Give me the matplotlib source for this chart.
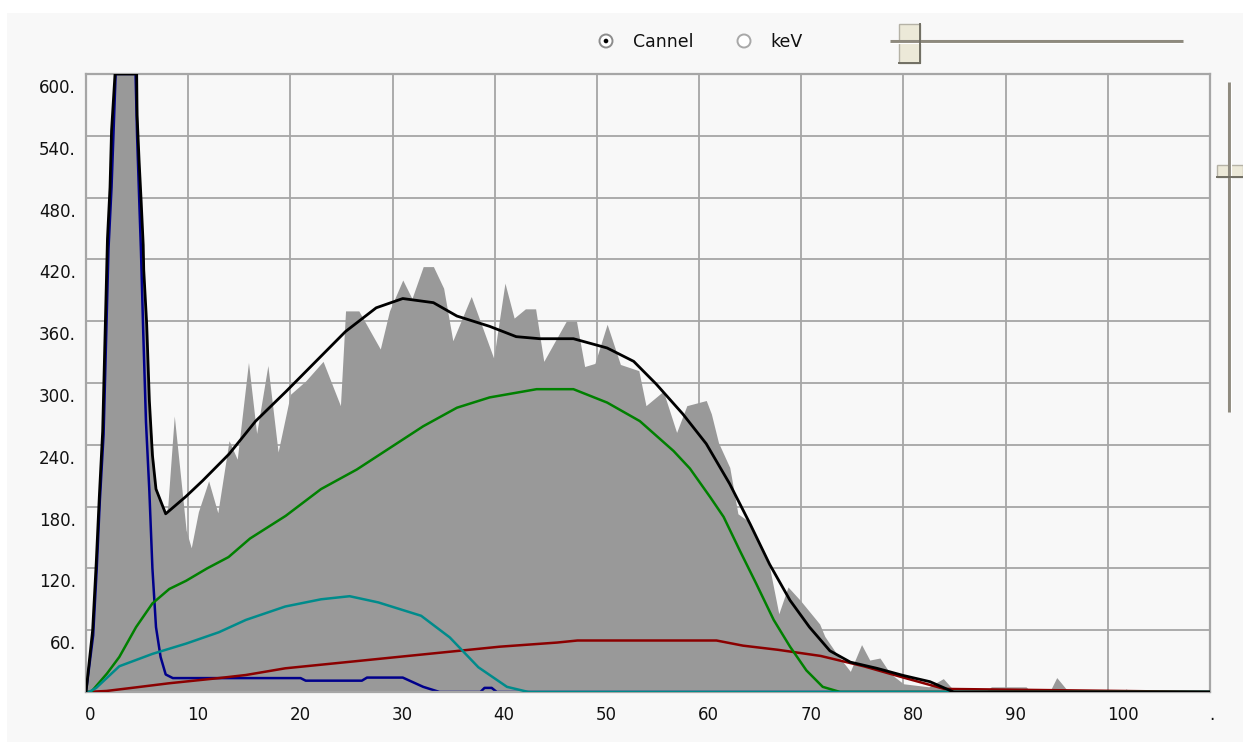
import matplotlib
matplotlib.use('Agg')
import matplotlib.pyplot as plt
from matplotlib.patches import Rectangle, Circle
from matplotlib.transforms import offset_copy, blended_transform_factory

# spectrum (gray area), clipped at the 600 top
hist_x = [0, 0.65, 1.0, 1.3, 1.63, 2.1, 2.5, 2.84, 4.96, 5.2, 5.6, 5.9, 6.2, 6.5, 6.8, 7.8, 8.0, 8.64, 9.3, 9.8,
          10.3, 11.0, 12.0, 12.9, 14.0, 14.8, 15.9, 16.7, 17.8, 18.8, 20.0, 21.5, 23.2, 24.9, 25.4, 26.7, 28.8,
          29.7, 31.0, 31.9, 33.0, 34.0, 35.0, 35.9, 37.7, 39.9, 41.0, 41.9, 43.0, 44.0, 44.8, 47.0, 48.0, 48.8,
          49.8, 51.0, 52.3, 54.1, 54.8, 56.5, 57.8, 58.8, 60.7, 61.2, 61.9, 63.0, 63.8, 64.8, 66.9, 67.8, 68.7,
          69.9, 71.8, 72.3, 73.4, 74.8, 75.9, 76.7, 77.7, 78.7, 80.0, 82.5, 83.9, 84.9, 86.0, 88.0, 88.6, 92.0,
          92.5, 94.3, 95.0, 96.0, 101.4, 101.8, 102.2, 110]
hist_y = [0, 58, 122, 186, 250, 430, 540, 600, 600, 510, 430, 350, 280, 240, 200, 172, 180, 268, 205, 157,
          140, 175, 205, 174, 244, 226, 320, 251, 317, 233, 289, 302, 321, 278, 370, 370, 333,
          370, 400, 382, 413, 413, 392, 341, 384, 324, 397, 363, 372, 372, 321, 360, 360, 316,
          319, 357, 318, 312, 278, 292, 252, 278, 283, 270, 242, 218, 173, 166, 121, 76, 102,
          89, 66, 54, 38, 20, 46, 31, 33, 18, 8, 5, 13, 2, 0, 0, 5, 5,
          0, 0, 14, 2, 0, 3, 0, 0]

# fit components
blue_x = [0, 0.7, 1.05, 1.35, 1.72, 2.2, 2.5, 2.7, 2.9, 4.85, 5.0, 5.2, 5.38, 5.6, 5.87, 6.2, 6.5, 6.85, 7.3,
          7.8, 8.5, 21.0, 21.5, 27.0, 27.5, 31.0, 33.0, 34.6, 38.6, 39.0, 39.7, 40.2, 110]
blue_y = [0, 55, 120, 185, 250, 430, 490, 545, 600, 600, 540, 480, 428, 350, 262, 195, 120, 63, 34,
          17, 13.5, 13.5, 11, 11, 14, 14, 5, 0, 0, 4, 4, 0, 0]

red_x = [0, 2.0, 4.9, 8.15, 13.0, 15.65, 19.5, 26.5, 33.5, 40.5, 46.1, 48.1, 61.7, 64.3, 67.7, 71.9, 76.1, 80.0,
         84.0, 110]
red_y = [0, 1, 4.5, 8.5, 13.5, 16.5, 23, 30, 37, 44, 48, 50, 50, 45, 41, 35, 25, 14,
         3, 0]

green_x = [0, 0.5, 2.06, 3.26, 4.9, 6.5, 8.15, 9.8, 11.85, 13.95, 16.05, 19.54, 23.0, 26.5, 29.75, 33.0, 36.3,
           39.5, 44.1, 47.7, 51.0, 54.2, 57.5, 59.1, 61.1, 62.4, 64.0, 65.6, 67.3, 68.9, 70.5, 72.1, 73.8, 110]
green_y = [0, 0, 18, 34, 63, 86, 100, 108, 120, 131, 149, 171, 197, 216, 237, 258, 276,
           286, 294, 294, 281, 263, 234, 217, 189, 170, 137, 105, 70, 44, 21, 5, 0, 0]

teal_x = [0, 0.3, 1.0, 3.26, 6.5, 9.8, 13.0, 15.65, 19.5, 23.0, 25.8, 28.6, 32.8, 35.6, 38.4, 41.2, 43.3, 110]
teal_y = [0, 0, 4, 25, 37, 47, 58, 70, 83, 90, 93, 87, 74, 53, 24, 5, 0, 0]

# total fit
black_x = [0, 0.65, 1.0, 1.3, 1.63, 2.1, 2.35, 2.5, 2.84, 4.96, 5.0, 5.2, 5.4, 5.6, 5.65, 5.94, 6.2, 6.5, 6.85,
           7.8, 9.8, 11.4, 14.0, 16.6, 19.6, 22.8, 25.4, 28.4, 31.0, 34.0, 36.3, 39.5, 42.1, 44.4, 47.7,
           51.0, 53.6, 55.8, 58.4, 60.7, 63.0, 65.0, 66.9, 68.9, 70.8, 72.8, 74.8, 77.4, 80.0, 82.6, 84.9, 110]
black_y = [0, 60, 125, 189, 253, 440, 490, 545, 600, 600, 560, 515, 476, 434, 410, 357, 283, 230, 197,
           173, 190, 205, 231, 263, 292, 324, 350, 373, 382, 378, 365, 355, 345, 343, 343,
           334, 321, 299, 270, 241, 202, 163, 124, 89, 63, 40, 29, 23, 16, 10, 0, 0]

x_ticks = list(range(0, 111, 10))
x_labels = [str(v) for v in range(0, 101, 10)] + ['.']
y_ticks = list(range(60, 601, 60))
y_labels = [str(v) + '.' for v in y_ticks]

W, H = 1243, 742
BG = '#f8f8f8'
GRID = '#a6a6a6'

fig = plt.figure(figsize=(W / 100, H / 100), dpi=100, facecolor='white')
# light dialog panel
fig.patches.append(Rectangle((7 / W, 0), 1 - 7 / W, 1 - 13 / H, transform=fig.transFigure,
                             facecolor=BG, edgecolor='none', zorder=-5))

ax = fig.add_axes([86 / W, 50 / H, 1124 / W, 618 / H])
ax.set_facecolor(BG)
ax.set_xlim(0, 110)
ax.set_ylim(0, 600)
ax.set_xticks(x_ticks)
ax.set_yticks([0] + y_ticks)
ax.tick_params(length=0, labelbottom=False, labelleft=False)
ax.grid(True, color=GRID, lw=1.3)
ax.set_axisbelow(True)
for sp in ax.spines.values():
  sp.set_color(GRID)
  sp.set_linewidth(1.6)

ax.fill_between(hist_x, hist_y, color='#999999', lw=0, zorder=1)
ax.plot(blue_x, blue_y, color='#00008b', lw=1.8, zorder=2)
ax.plot(red_x, red_y, color='#8b0000', lw=1.8, zorder=3)
ax.plot(green_x, green_y, color='#008000', lw=1.8, zorder=4)
ax.plot(teal_x, teal_y, color='#008b8b', lw=1.8, zorder=5)
ax.plot(black_x, black_y, color='black', lw=2.0, zorder=6)

# tick labels: x left-aligned on the grid line, y just below the grid line
xt = offset_copy(ax.get_xaxis_transform(), fig=fig, x=-1, y=-14, units='dots')
for v, lab in zip(x_ticks, x_labels):
  ax.text(v, 0, lab, transform=xt, ha='left', va='top', fontsize=12, color='#111111', clip_on=False)
yt = offset_copy(blended_transform_factory(ax.transAxes, ax.transData), fig=fig, x=-10, y=-5, units='dots')
for v, lab in zip(y_ticks, y_labels):
  ax.text(0, v, lab, transform=yt, ha='right', va='top', fontsize=12, color='#111111', clip_on=False)

# dialog controls (radio buttons and sliders) in pixel space
ui = fig.add_axes([0, 0, 1, 1])
ui.set_xlim(0, W)
ui.set_ylim(H, 0)
ui.axis('off')

ui.add_patch(Circle((606, 41), 6.5, facecolor='white', edgecolor='#8c8c8c', lw=1.4))
ui.add_patch(Circle((606, 41), 2.3, facecolor='black', edgecolor='none'))
ui.text(633, 42, 'Cannel', fontsize=12.5, ha='left', va='center', color='#111111')
ui.add_patch(Circle((744, 41), 6.5, facecolor='white', edgecolor='#a8a8a8', lw=1.4))
ui.text(770, 42, 'keV', fontsize=12.5, ha='left', va='center', color='#111111')

ui.plot([890, 1183], [41, 41], color='#8e8a7e', lw=2.2, solid_capstyle='butt')
ui.plot([890, 1183], [43, 43], color='white', lw=0.8, solid_capstyle='butt')
ui.add_patch(Rectangle((899, 24), 21, 39, facecolor='#ece9d8', edgecolor='#b5b2a6', lw=1))
ui.plot([920, 920], [24, 63], color='#716f64', lw=1.4)
ui.plot([899, 920], [63, 63], color='#716f64', lw=1.4)

ui.plot([1229.5, 1229.5], [82, 412], color='#8e8a7e', lw=2.2, solid_capstyle='butt')
ui.plot([1231.5, 1231.5], [82, 412], color='white', lw=0.8, solid_capstyle='butt')
ui.add_patch(Rectangle((1217, 165), 26, 12, facecolor='#ece9d8', edgecolor='#b5b2a6', lw=1))
ui.plot([1217, 1243], [177, 177], color='#716f64', lw=1.4)

fig.savefig('out.png', dpi=100, facecolor=fig.get_facecolor())
